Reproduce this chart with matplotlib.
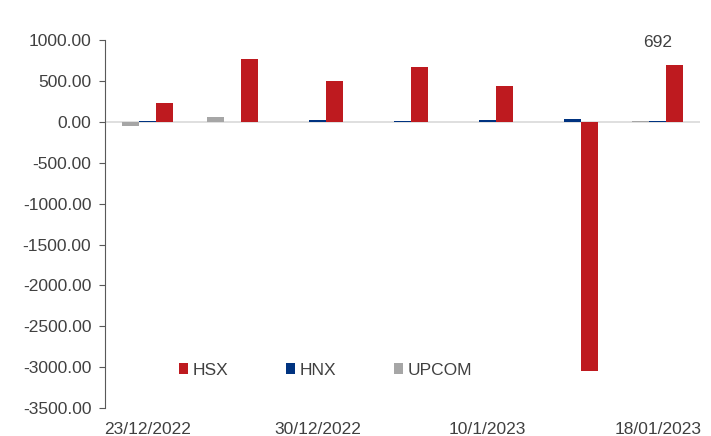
import numpy as np
import matplotlib
matplotlib.use("Agg")
import matplotlib.pyplot as plt

plt.rcParams['font.family'] = ['Liberation Sans', 'DejaVu Sans']

dates = ["23/12/2022", "", "30/12/2022", "", "10/1/2023", "", "18/01/2023"]
hsx = [232, 770, 500, 672, 440, -3045, 692]
hnx = [12, -5, 25, 15, 20, 30, 15]
upcom = [-55, 55, -5, -5, -5, -5, 15]

text_color = "#404040"

fig = plt.figure(figsize=(7.11, 4.36), dpi=100)
ax = fig.add_axes([0.148, 0.064, 0.837, 0.844])

x = np.arange(len(dates))
w = 0.2
ax.bar(x - w, upcom, w, color="#a6a6a6", label="UPCOM")
ax.bar(x, hnx, w, color="#003380", label="HNX")
ax.bar(x + w, hsx, w, color="#be1a1f", label="HSX")

ax.axhline(0, color="#d9d9d9", lw=1.2, zorder=0)
# data label on the latest HSX bar
ax.text(x[-1], 965, f"{hsx[-1]:.0f}", ha="center", va="center",
        fontsize=12.5, color=text_color)

ax.set_ylim(-3500, 1000)
ax.set_yticks(np.arange(-3500, 1001, 500))
ax.set_yticklabels([f"{v:.2f}" for v in np.arange(-3500, 1001, 500)])
ax.set_xlim(-0.5, len(dates) - 0.5)
ax.set_xticks(x)
ax.set_xticklabels(dates)

for s in ["top", "right", "bottom"]:
    ax.spines[s].set_visible(False)
ax.spines["left"].set_color("#595959")
ax.tick_params(axis="y", colors=text_color, labelsize=12.5, length=4,
               color="#595959", pad=6)
ax.tick_params(axis="x", colors=text_color, labelsize=12.5, length=0, pad=10)

handles, labels = ax.get_legend_handles_labels()
ax.legend(handles[::-1], labels[::-1], ncol=3, loc="center",
          bbox_to_anchor=(0.37, 0.103), frameon=False, fontsize=12.5,
          handlelength=0.55, handleheight=0.55, handletextpad=0.25,
          columnspacing=3.3, labelcolor=text_color)

fig.savefig("out.png", dpi=100)
plt.close(fig)
